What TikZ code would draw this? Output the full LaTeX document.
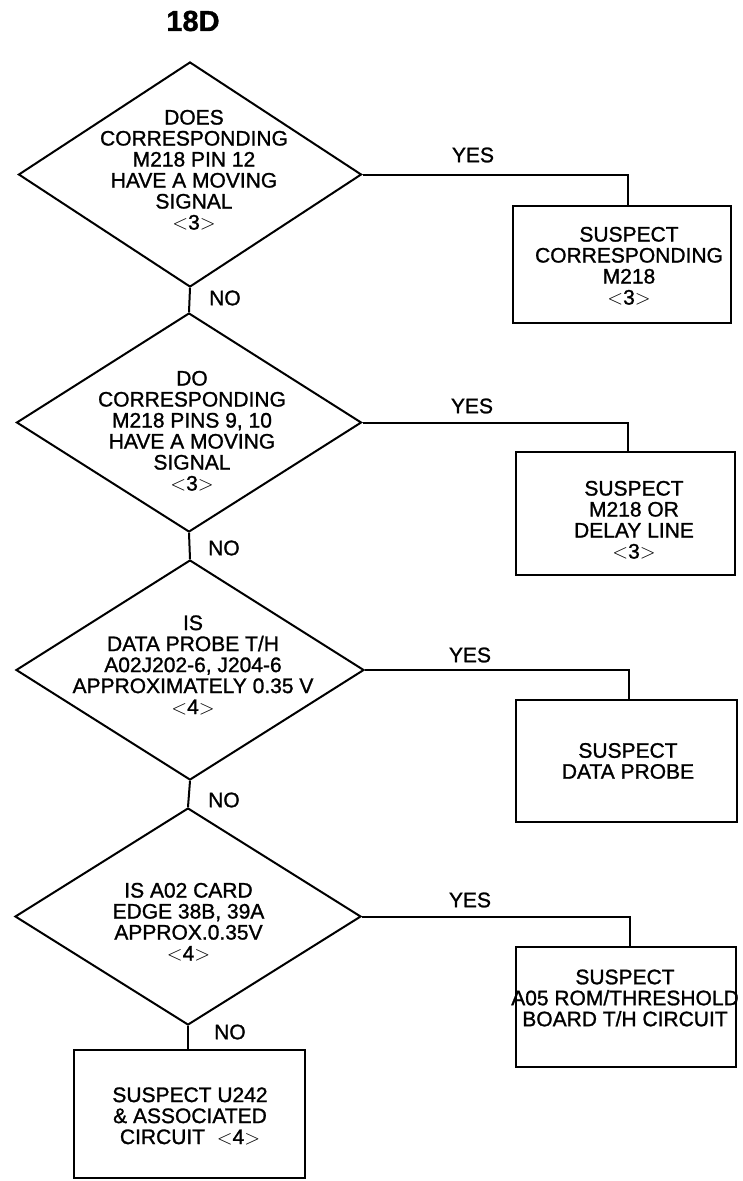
\documentclass[tikz,border=0pt]{standalone}
\usepackage{fontspec}
\setmainfont{Liberation Sans}[FakeBold=1.2]
\usetikzlibrary{shapes.geometric}
\begin{document}
\begin{tikzpicture}[x=1pt,y=-1pt,
  txt/.style={font=\fontsize{21}{21}\selectfont, align=center, inner sep=0pt},
  lbl/.style={font=\fontsize{21}{21}\selectfont, inner sep=0pt},
  dec/.style={draw, shape=diamond, inner sep=0pt, line width=2pt},
  box/.style={draw, rectangle, inner sep=0pt, line width=2pt},
  conn/.style={line width=2pt}
]
\useasboundingbox (0,0) rectangle (743,1181);
\node[font=\fontsize{29}{30}\selectfont\bfseries, inner sep=0pt] (title) at (193,21) {18D};

% decisions
\node[dec, minimum width=343pt, minimum height=225pt] (d1) at (190,174.5) {};
\node[dec, minimum width=345pt, minimum height=219pt] (d2) at (189,422.5) {};
\node[dec, minimum width=348pt, minimum height=220pt] (d3) at (190,670) {};
\node[dec, minimum width=346pt, minimum height=217pt] (d4) at (188,916.5) {};

\node[txt] (t1) at (194,170) {DOES\\CORRESPONDING\\M218 PIN 12\\HAVE A MOVING\\SIGNAL\\$<$3$>$};
\node[txt] (t2) at (192,431) {DO\\CORRESPONDING\\M218 PINS 9, 10\\HAVE A MOVING\\SIGNAL\\$<$3$>$};
\node[txt] (t3) at (193,665) {IS\\DATA PROBE T/H\\A02J202-6, J204-6\\APPROXIMATELY 0.35 V\\$<$4$>$};
\node[txt] (t4) at (188.5,922) {IS A02 CARD\\EDGE 38B, 39A\\APPROX.0.35V\\$<$4$>$};

% boxes
\node[box, minimum width=218pt, minimum height=117pt] (b1) at (622,264.5) {};
\node[box, minimum width=219pt, minimum height=123pt] (b2) at (625.5,513.5) {};
\node[box, minimum width=221pt, minimum height=122pt] (b3) at (626.5,761) {};
\node[box, minimum width=220pt, minimum height=120pt] (b4) at (626,1007) {};
\node[box, minimum width=231pt, minimum height=128pt] (b5) at (189.5,1114) {};

\node[txt] (bt1) at (629,266) {SUSPECT\\CORRESPONDING\\M218\\$<$3$>$};
\node[txt] (bt2) at (634,520) {SUSPECT\\M218 OR\\DELAY LINE\\$<$3$>$};
\node[txt] (bt3) at (628,761) {SUSPECT\\DATA PROBE};
\node[txt] (bt4) at (625,998) {SUSPECT\\A05 ROM/THRESHOLD\\BOARD T/H CIRCUIT};
\node[txt] (bt5) at (190,1116) {SUSPECT U242\\\&\ ASSOCIATED\\CIRCUIT \ $<$4$>$};

% NO connectors
\draw[conn] (d1.south) -- (d2.north);
\draw[conn] (d2.south) -- (d3.north);
\draw[conn] (d3.south) -- (d4.north);
\draw[conn] (d4.south) -- (b5.north -| d4.south);
\node[lbl, anchor=west] (n1) at (209,298) {NO};
\node[lbl, anchor=west] (n2) at (208,548) {NO};
\node[lbl, anchor=west] (n3) at (208,800) {NO};
\node[lbl, anchor=west] (n4) at (214,1032) {NO};

% YES connectors
\draw[conn] (d1.east) -| ([xshift=6pt]b1.north);
\draw[conn] (d2.east) -| ([xshift=2.5pt]b2.north);
\draw[conn] (d3.east) -| ([xshift=2.5pt]b3.north);
\draw[conn] (d4.east) -| ([xshift=4pt]b4.north);
\node[lbl] (y1) at (473,155) {YES};
\node[lbl] (y2) at (472,406) {YES};
\node[lbl] (y3) at (470,655) {YES};
\node[lbl] (y4) at (470,900) {YES};
\end{tikzpicture}
\end{document}
